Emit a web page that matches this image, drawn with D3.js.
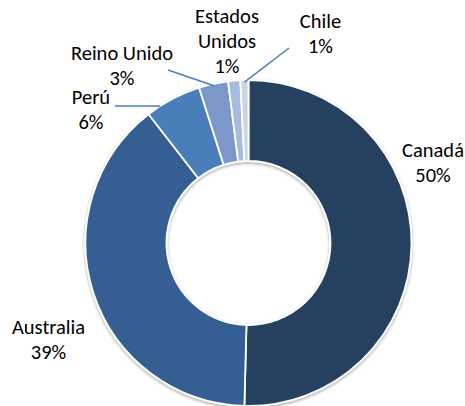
<!DOCTYPE html>
<html>
<head>
<meta charset="utf-8">
<script src="https://cdn.jsdelivr.net/npm/d3@7"></script>
<style>
  html, body { margin: 0; padding: 0; background: #fff; }
  svg { display: block; }
  text { font-family: Carlito, Calibri, Lato, sans-serif; font-size: 20.5px; fill: #000; }
</style>
</head>
<body>
<div id="chart"></div>
<script>
// ---- data ----
const categories = ["Canadá", "Australia", "Perú", "Reino Unido", "Estados Unidos", "Chile"];
const values = [50.4, 39.1, 5.6, 2.9, 1.2, 0.8];
const labelLines = [["Canadá"], ["Australia"], ["Perú"], ["Reino Unido"], ["Estados", "Unidos"], ["Chile"]];
const colors = ["#253f60", "#365f92", "#4a7ebb", "#7b97c9", "#a8badd", "#c8d4ea"];

// ---- layout ----
const W = 465, H = 406;
const cx = 248.5, cy = 243, R = 163, r0 = 82;
const lineH = 25;
// label anchor: center x, baseline of first line
const labelPos = [
  {x: 433, y: 157},
  {x: 48.5, y: 334},
  {x: 91, y: 104},
  {x: 122, y: 60},
  {x: 227, y: 23},
  {x: 320.5, y: 28}
];
// leader line start points (near label), null = no leader
const leaderStart = [null, null, {x: 115, y: 106, horiz: true}, {x: 168, y: 70}, null, {x: 289, y: 48}];

const svg = d3.select("#chart").append("svg").attr("width", W).attr("height", H);

const defs = svg.append("defs");
const f = defs.append("filter").attr("id", "sh").attr("x", "-20%").attr("y", "-20%").attr("width", "140%").attr("height", "140%");
f.append("feDropShadow").attr("dx", 0).attr("dy", 1.5).attr("stdDeviation", 1.6)
  .attr("flood-color", "#000").attr("flood-opacity", 0.35);

const pie = d3.pie().sort(null).value(d => d);
const arcs = pie(values);
const arc = d3.arc().innerRadius(r0).outerRadius(R);

const g = svg.append("g").attr("transform", `translate(${cx},${cy})`).attr("filter", "url(#sh)");
g.selectAll("path").data(arcs).join("path")
  .attr("d", arc)
  .attr("fill", (d, i) => colors[i])
  .attr("stroke", "#fff")
  .attr("stroke-width", 1.8)
  .attr("stroke-linejoin", "round");

// leader lines
arcs.forEach((d, i) => {
  const s = leaderStart[i];
  if (!s) return;
  let ex, ey;
  if (s.horiz) {
    ey = s.y;
    ex = cx - Math.sqrt(R * R - (cy - ey) * (cy - ey));
  } else {
    const a = (d.startAngle + d.endAngle) / 2;
    const rr = R - 2;
    ex = cx + rr * Math.sin(a);
    ey = cy - rr * Math.cos(a);
  }
  svg.append("line")
    .attr("x1", s.x).attr("y1", s.y).attr("x2", ex).attr("y2", ey)
    .attr("stroke", "#4a7ebb").attr("stroke-width", 1.5);
});

// labels
arcs.forEach((d, i) => {
  const p = labelPos[i];
  const lines = labelLines[i].concat([Math.round(values[i]) + "%"]);
  const t = svg.append("text").attr("text-anchor", "middle");
  lines.forEach((ln, k) => {
    t.append("tspan").attr("x", p.x).attr("y", p.y + k * lineH).text(ln);
  });
});
</script>
</body>
</html>
